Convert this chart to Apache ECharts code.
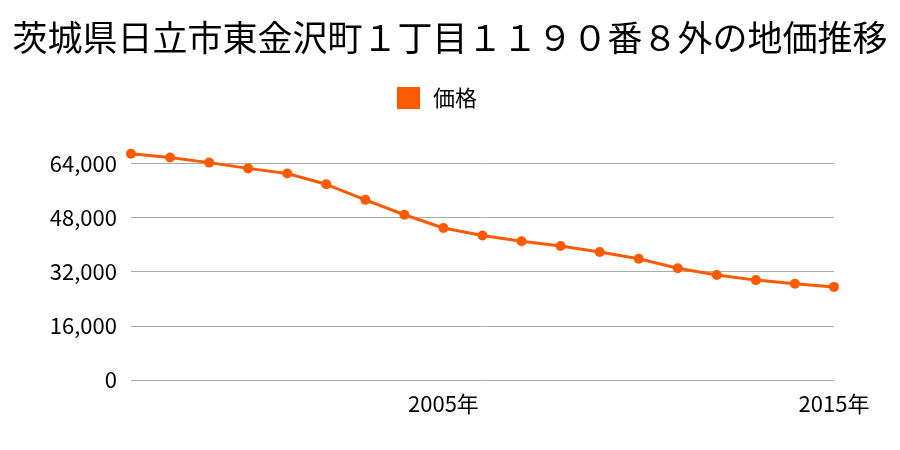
<!DOCTYPE html>
<html><head><meta charset="utf-8">
<script src="https://cdn.jsdelivr.net/npm/echarts@6/dist/echarts.min.js"></script>
<style>html,body{margin:0;padding:0;background:#fff}#c{width:900px;height:450px}</style>
</head><body><div id="c"></div>
<script>
var years = ['1997','1998','1999','2000','2001','2002','2003','2004','2005','2006','2007','2008','2009','2010','2011','2012','2013','2014','2015'];
var prices = [66800,65700,64200,62500,61000,57800,53200,48800,44900,42700,41000,39600,37800,35800,33000,31000,29500,28400,27500];
var shownYears = ['2005','2015'];
var titleText = '茨城県日立市東金沢町１丁目１１９０番８外の地価推移';
var seriesName = '価格';
var font = '"Noto Sans CJK JP", sans-serif';
var chart = echarts.init(document.getElementById('c'));
chart.setOption({
  animation: false,
  title: { text: titleText, left: 'center', top: 15, textStyle: { fontFamily: font, fontSize: 35, fontWeight: 'normal', color: '#000' } },
  legend: { data: [seriesName], top: 82, left: 392, icon: 'rect', itemWidth: 23, itemHeight: 22, itemGap: 10,
    textStyle: { fontFamily: font, fontSize: 22, color: '#000', padding: [0, 0, 0, 8] } },
  grid: { left: 131, right: 66, top: 163.3, bottom: 70, containLabel: false },
  xAxis: { type: 'category', data: years, boundaryGap: false,
    axisLine: { show: false }, axisTick: { show: false },
    axisLabel: { interval: 0, margin: 13, fontFamily: font, fontSize: 22, color: '#000',
      formatter: function (v) { return shownYears.indexOf(v) >= 0 ? v + '年' : ''; } },
    splitLine: { show: false } },
  yAxis: { type: 'value', min: 0, max: 64000, interval: 16000,
    axisLine: { show: false }, axisTick: { show: false },
    axisLabel: { margin: 14, fontFamily: font, fontSize: 22, color: '#000',
      formatter: function (v) { return v.toLocaleString('en-US'); } },
    splitLine: { lineStyle: { color: '#aaaaaa', width: 1 } } },
  series: [{ name: seriesName, type: 'line', data: prices, clip: false,
    symbol: 'circle', symbolSize: 10,
    lineStyle: { color: '#ff5a00', width: 3 }, itemStyle: { color: '#ff5a00' } }]
});
</script></body></html>
